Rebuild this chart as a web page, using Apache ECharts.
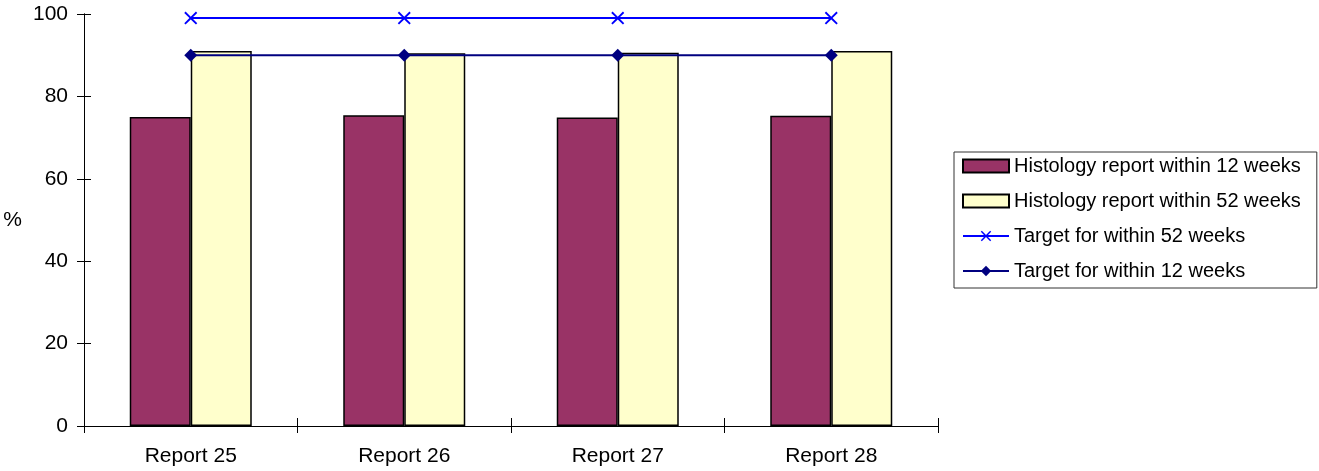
<!DOCTYPE html>
<html>
<head>
<meta charset="utf-8">
<script src="https://cdn.jsdelivr.net/npm/echarts@6/dist/echarts.min.js"></script>
<style>
  html, body { margin: 0; padding: 0; background: #fff; }
  #chart { width: 1319px; height: 471px; }
</style>
</head>
<body>
<div id="chart"></div>
<script>
// Report periods along the x axis
const categories = ['Report 25', 'Report 26', 'Report 27', 'Report 28'];
// Percentage of histology reports received
const within12Weeks = [75.0, 75.4, 74.9, 75.3];
const within52Weeks = [91.0, 90.5, 90.6, 91.0];
// Targets
const target52Weeks = [99, 99, 99, 99];
const target12Weeks = [90, 90, 90, 90];
// Value axis ticks
const yMin = 0, yMax = 100, yStep = 20;

const FONT = '"Liberation Sans", Arial, sans-serif';
const FS = 21;
const crossPath = 'path://M0,1L1,0L5,4L9,0L10,1L6,5L10,9L9,10L5,6L1,10L0,9L4,5Z';

const chart = echarts.init(document.getElementById('chart'), null, { renderer: 'canvas' });

// Two overlapping axis pairs: the first carries labels and outward ticks,
// the second (used by the target lines) adds inward ticks so ticks cross the axis line.
chart.setOption({
  animation: false,
  backgroundColor: '#ffffff',
  textStyle: { fontFamily: FONT },
  grid: { left: 84, right: 381, top: 14, bottom: 45, outerBoundsMode: 'none', containLabel: false },
  legend: {
    orient: 'vertical',
    left: 954,
    top: 152,
    padding: [4, 16, 7, 8],
    itemGap: 15,
    itemWidth: 46,
    itemHeight: 13,
    borderColor: '#333',
    borderWidth: 1,
    textStyle: { fontFamily: FONT, fontSize: 20, color: '#000' },
    data: [
      { name: 'Histology report within 12 weeks', icon: 'rect' },
      { name: 'Histology report within 52 weeks', icon: 'rect' },
      'Target for within 52 weeks',
      'Target for within 12 weeks'
    ]
  },
  xAxis: [
    {
      type: 'category',
      data: categories,
      boundaryGap: true,
      axisLine: { show: true, onZero: false, lineStyle: { color: '#000', width: 1 } },
      axisTick: { show: true, length: 7, lineStyle: { color: '#000' } },
      axisLabel: { show: true, color: '#000', fontSize: FS, fontFamily: FONT, margin: 20 },
      splitLine: { show: false }
    },
    {
      type: 'category',
      data: categories,
      position: 'bottom',
      boundaryGap: true,
      axisLine: { show: true, onZero: false, lineStyle: { color: '#000', width: 1 } },
      axisTick: { show: true, inside: true, length: 8, lineStyle: { color: '#000' } },
      axisLabel: { show: false },
      splitLine: { show: false }
    }
  ],
  yAxis: [
    {
      type: 'value',
      min: yMin, max: yMax, interval: yStep,
      name: '%',
      nameLocation: 'middle',
      nameRotate: 0,
      nameGap: 62,
      nameTextStyle: { color: '#000', fontSize: FS, fontFamily: FONT },
      axisLine: { show: true, lineStyle: { color: '#000', width: 1 } },
      axisTick: { show: true, length: 7, lineStyle: { color: '#000' } },
      axisLabel: { color: '#000', fontSize: FS, fontFamily: FONT, margin: 16 },
      splitLine: { show: false }
    },
    {
      type: 'value',
      position: 'left',
      offset: 0,
      min: yMin, max: yMax, interval: yStep,
      axisLine: { show: true, lineStyle: { color: '#000', width: 1 } },
      axisTick: { show: true, inside: true, length: 7, lineStyle: { color: '#000' } },
      axisLabel: { show: false },
      splitLine: { show: false }
    }
  ],
  series: [
    {
      name: 'Histology report within 12 weeks',
      type: 'bar',
      data: within12Weeks,
      barWidth: 61,
      barGap: '0%',
      itemStyle: { color: '#993366', borderColor: '#000', borderWidth: 1.5 }
    },
    {
      name: 'Histology report within 52 weeks',
      type: 'bar',
      data: within52Weeks,
      barWidth: 61,
      barGap: '0%',
      itemStyle: { color: '#FFFFCC', borderColor: '#000', borderWidth: 1.5 }
    },
    {
      name: 'Target for within 52 weeks',
      type: 'line',
      xAxisIndex: 1,
      yAxisIndex: 1,
      data: target52Weeks,
      symbol: crossPath,
      symbolSize: 13,
      lineStyle: { color: '#0000FF', width: 2 },
      itemStyle: { color: '#0000FF' },
      z: 5
    },
    {
      name: 'Target for within 12 weeks',
      type: 'line',
      xAxisIndex: 1,
      yAxisIndex: 1,
      data: target12Weeks,
      symbol: 'diamond',
      symbolSize: 13,
      lineStyle: { color: '#000080', width: 2 },
      itemStyle: { color: '#000080' },
      z: 5
    }
  ]
});
</script>
</body>
</html>
